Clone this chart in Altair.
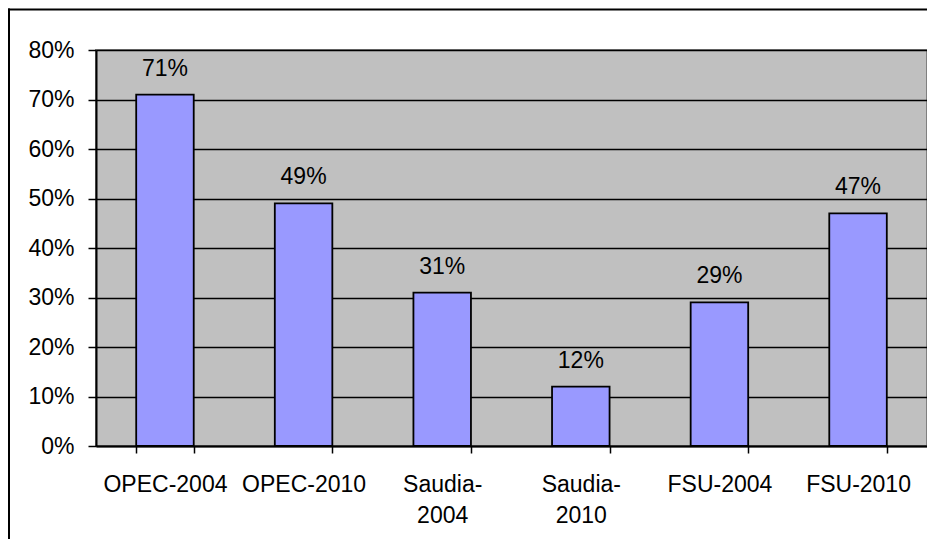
import altair as alt
import pandas as pd

categories = ["OPEC-2004", "OPEC-2010", "Saudia-2004", "Saudia-2010", "FSU-2004", "FSU-2010"]
shares = [0.71, 0.49, 0.31, 0.12, 0.29, 0.47]

df = pd.DataFrame({"cat": categories, "share": shares})

FONT = "Liberation Sans"

x_enc = alt.X(
    "cat:N",
    sort=categories,
    scale=alt.Scale(paddingInner=0.585, paddingOuter=0.29),
    axis=alt.Axis(
        title=None,
        labelAngle=0,
        labelFont=FONT,
        labelFontSize=23,
        labelColor="black",
        labelPadding=20,
        labelLineHeight=31,
        labelExpr="indexof(datum.label, 'Saudia') == 0 ? ['Saudia-', replace(datum.label, 'Saudia-', '')] : datum.label",
        tickSize=7,
        tickColor="black",
        tickWidth=1.5,
        tickBand="extent",
        domainColor="black",
        domainWidth=2,
        grid=False,
    ),
)
y_enc = alt.Y(
    "share:Q",
    scale=alt.Scale(domain=[0, 0.8], nice=False),
    axis=alt.Axis(
        title=None,
        format=".0%",
        values=[0, 0.1, 0.2, 0.3, 0.4, 0.5, 0.6, 0.7, 0.8],
        labelFont=FONT,
        labelFontSize=23,
        labelColor="black",
        labelPadding=14,
        tickSize=8,
        tickColor="black",
        tickWidth=1.5,
        domainColor="black",
        domainWidth=2,
        grid=True,
        gridColor="black",
        gridWidth=1.4,
    ),
)

base = alt.Chart(df)

bars = base.mark_bar(color="#9999FF", stroke="black", strokeWidth=1.8).encode(x=x_enc, y=y_enc)

labels = base.mark_text(
    font=FONT, fontSize=23, color="black", baseline="alphabetic", dy=-19
).encode(x=alt.X("cat:N", sort=categories), y="share:Q", text=alt.Text("share:Q", format=".0%"))

frame_df = pd.DataFrame({"k": [0]})
frame_top = alt.Chart(frame_df).mark_rule(color="black", strokeWidth=2).encode(
    x=alt.value(-88), x2=alt.value(840), y=alt.value(-40.5)
)
frame_left = alt.Chart(frame_df).mark_rule(color="black", strokeWidth=2).encode(
    x=alt.value(-87), y=alt.value(-41.5), y2=alt.value(500)
)

chart = (
    alt.layer(bars, labels, frame_top, frame_left)
    .properties(
        width=831,
        height=396,
        autosize=alt.AutoSizeParams(type="none"),
        padding={"left": 88, "top": 42, "right": 0, "bottom": 93},
        background="white",
    )
    .configure_view(fill="#C0C0C0", stroke="#808080", strokeWidth=2)
)

chart.save("out.html", embed_options={"renderer": "svg", "actions": False})
